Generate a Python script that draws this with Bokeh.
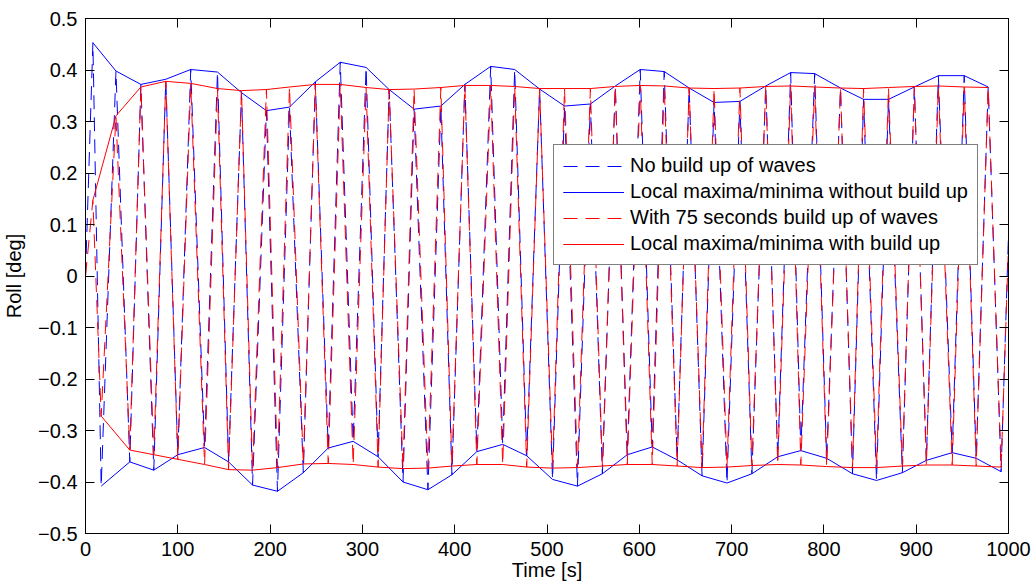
from bokeh.plotting import figure
from bokeh.models import Range1d, LinearAxis, FixedTicker, CustomJSTickFormatter
from bokeh.embed import file_html
from bokeh.resources import INLINE

# ---- data ----
t_max = [8, 33, 60, 87, 114, 143, 169, 196, 221, 249, 276, 304, 329, 356, 385, 411, 439, 465, 492,
         519, 547, 574, 601, 627, 654, 681, 709, 737, 764, 790, 818, 843, 870, 898, 924, 952, 978]
t_min = [17, 48, 74, 100, 129, 155, 181, 208, 236, 263, 290, 317, 344, 371, 397, 424, 452, 478, 506,
         533, 560, 587, 614, 641, 668, 695, 722, 750, 775, 803, 831, 857, 885, 911, 939, 965, 992]

blue_max = [0.453, 0.398, 0.372, 0.382, 0.401, 0.396, 0.356, 0.321, 0.328, 0.377, 0.415, 0.405, 0.362,
            0.324, 0.330, 0.372, 0.407, 0.401, 0.363, 0.330, 0.334, 0.369, 0.401, 0.397, 0.365, 0.337,
            0.339, 0.369, 0.395, 0.393, 0.365, 0.343, 0.343, 0.367, 0.389, 0.389, 0.367]
blue_min = [-0.408, -0.361, -0.377, -0.347, -0.333, -0.361, -0.406, -0.418, -0.382, -0.334, -0.321,
            -0.351, -0.400, -0.415, -0.386, -0.341, -0.327, -0.349, -0.395, -0.408, -0.384, -0.347,
            -0.332, -0.357, -0.388, -0.402, -0.384, -0.351, -0.339, -0.354, -0.384, -0.397, -0.382,
            -0.358, -0.343, -0.354, -0.380]
red_max = [0.147, 0.311, 0.367, 0.378, 0.374, 0.364, 0.360, 0.362, 0.367, 0.372, 0.372, 0.366, 0.362,
           0.363, 0.366, 0.370, 0.370, 0.368, 0.364, 0.364, 0.364, 0.368, 0.370, 0.369, 0.365, 0.364,
           0.365, 0.368, 0.369, 0.367, 0.365, 0.364, 0.366, 0.368, 0.369, 0.367, 0.366]
red_min = [-0.272, -0.338, -0.347, -0.356, -0.366, -0.376, -0.377, -0.372, -0.365, -0.364, -0.366,
           -0.371, -0.374, -0.373, -0.369, -0.366, -0.366, -0.371, -0.373, -0.372, -0.369, -0.366,
           -0.366, -0.369, -0.372, -0.371, -0.368, -0.366, -0.367, -0.370, -0.372, -0.372, -0.369,
           -0.367, -0.367, -0.369, -0.371]

t_start, t_end = 0, 1000
blue_start, blue_end = 0.0, 0.08
red_start, red_end = 0.0, 0.06

x_ticks = [0, 100, 200, 300, 400, 500, 600, 700, 800, 900, 1000]
y_ticks = [-0.5, -0.4, -0.3, -0.2, -0.1, 0, 0.1, 0.2, 0.3, 0.4, 0.5]
y_tick_labels = ["\u22120.5", "\u22120.4", "\u22120.3", "\u22120.2", "\u22120.1", "0",
                 "0.1", "0.2", "0.3", "0.4", "0.5"]

labels = ["No build up of waves",
          "Local maxima/minima without build up",
          "With 75 seconds build up of waves",
          "Local maxima/minima with build up"]

# time series passing through the extrema (zig-zag)
def series(start, mx, mn, end):
    t = [t_start]
    v = [start]
    for a, b, c, d in zip(t_max, mx, t_min, mn):
        t += [a, c]
        v += [b, d]
    t.append(t_end)
    v.append(end)
    return t, v

tb, vb = series(blue_start, blue_max, blue_min, blue_end)
tr, vr = series(red_start, red_max, red_min, red_end)

FONT = "Liberation Sans"
FS = "20px"
BLUE = "#0000ff"
RED = "#ff0000"
DASH = "14 8"

p = figure(width=1033, height=587, output_backend="svg", toolbar_location=None,
           x_range=Range1d(0, 1000), y_range=Range1d(-0.5, 0.5),
           min_border_left=85, min_border_right=25, min_border_top=18, min_border_bottom=54,
           x_axis_label="Time [s]", y_axis_label="Roll [deg]")
p.xgrid.visible = False
p.ygrid.visible = False
p.outline_line_color = "black"
p.outline_line_width = 1
p.background_fill_color = "white"
p.border_fill_color = "white"

p.line(tb, vb, line_color=BLUE, line_width=1, line_dash=DASH, legend_label=labels[0])
p.line(t_max, blue_max, line_color=BLUE, line_width=1, legend_label=labels[1])
p.line(t_min, blue_min, line_color=BLUE, line_width=1, legend_label=labels[1])
p.line(tr, vr, line_color=RED, line_width=1, line_dash=DASH, legend_label=labels[2])
p.line(t_max, red_max, line_color=RED, line_width=1, legend_label=labels[3])
p.line(t_min, red_min, line_color=RED, line_width=1, legend_label=labels[3])

def style(ax, show):
    ax.major_tick_in = 9
    ax.major_tick_out = 0
    ax.minor_tick_in = 0
    ax.minor_tick_out = 0
    ax.axis_line_color = "black"
    ax.major_tick_line_color = "black"
    if show:
        ax.major_label_text_font = FONT
        ax.major_label_text_font_size = FS
        ax.major_label_text_color = "black"
        ax.axis_label_text_font = FONT
        ax.axis_label_text_font_size = FS
        ax.axis_label_text_font_style = "normal"
        ax.axis_label_text_color = "black"
    else:
        ax.formatter = CustomJSTickFormatter(code="return ''")
        ax.major_label_text_font_size = "1px"
        ax.major_label_standoff = 0

xa = p.xaxis[0]
xa.ticker = FixedTicker(ticks=x_ticks, minor_ticks=[])
style(xa, True)
xa.major_label_standoff = 8
xa.axis_label_standoff = 0

ya = p.yaxis[0]
ya.ticker = FixedTicker(ticks=y_ticks, minor_ticks=[])
style(ya, True)
ya.major_label_overrides = {k: v for k, v in zip(y_ticks, y_tick_labels)}
ya.major_label_standoff = 8
ya.axis_label_standoff = 10

top = LinearAxis(ticker=FixedTicker(ticks=x_ticks, minor_ticks=[]))
style(top, False)
p.add_layout(top, "above")
right = LinearAxis(ticker=FixedTicker(ticks=y_ticks, minor_ticks=[]))
style(right, False)
p.add_layout(right, "right")

lg = p.legend[0]
lg.location = (468, 268)
lg.orientation = "vertical"
lg.label_text_font = FONT
lg.label_text_font_size = FS
lg.label_text_color = "black"
lg.glyph_width = 61
lg.glyph_height = 20
lg.label_height = 20
lg.label_standoff = 6
lg.padding = 9
lg.spacing = 3
lg.margin = 0
lg.border_line_color = "black"
lg.border_line_width = 1
lg.background_fill_color = "white"
lg.background_fill_alpha = 1.0

open("out.html", "w").write(file_html(p, INLINE))
